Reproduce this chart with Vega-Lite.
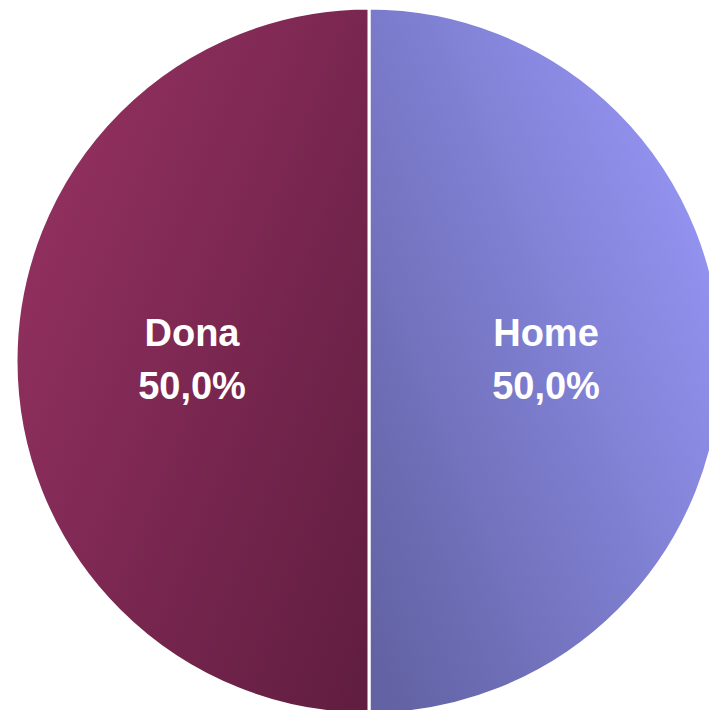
{
  "$schema": "https://vega.github.io/schema/vega-lite/v6.json",
  "width": 680,
  "height": 698,
  "autosize": {"type": "none"},
  "padding": {"left": 29, "top": 12, "right": 0, "bottom": 0},
  "background": "white",
  "view": {"stroke": null},
  "data": {
    "values": [
      {"sexe": "Home", "pct": 50.0, "ord": 1, "label": "Home\n50,0%"},
      {"sexe": "Dona", "pct": 50.0, "ord": 2, "label": "Dona\n50,0%"}
    ]
  },
  "encoding": {
    "theta": {"field": "pct", "type": "quantitative", "stack": true},
    "order": {"field": "ord", "type": "quantitative"}
  },
  "layer": [
    {
      "mark": {"type": "arc", "outerRadius": 353, "stroke": "white", "strokeWidth": 3},
      "encoding": {
        "fill": {
          "condition": {
            "test": "datum.sexe === 'Dona'",
            "value": {
              "gradient": "linear", "x1": 0, "y1": 0.1, "x2": 1, "y2": 0.9,
              "stops": [
                {"offset": 0, "color": "#973263"},
                {"offset": 1, "color": "#621e41"}
              ]
            }
          },
          "value": {
            "gradient": "linear", "x1": 1, "y1": 0.1, "x2": 0, "y2": 0.9,
            "stops": [
              {"offset": 0, "color": "#9a9afc"},
              {"offset": 1, "color": "#6262a4"}
            ]
          }
        }
      }
    },
    {
      "mark": {
        "type": "text", "radius": 177, "font": "Liberation Sans", "fontWeight": "bold",
        "fontSize": 38, "fill": "white", "lineBreak": "\n", "lineHeight": 53,
        "align": "center", "baseline": "middle", "dy": -26
      },
      "encoding": {
        "text": {"field": "label", "type": "nominal"}
      }
    }
  ]
}
